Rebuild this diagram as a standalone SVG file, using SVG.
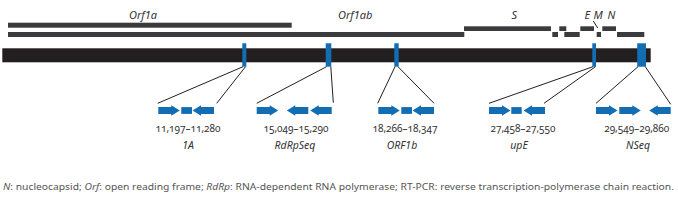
<svg xmlns="http://www.w3.org/2000/svg" xmlns:xlink="http://www.w3.org/1999/xlink" width="678" height="203" viewBox="0 0 678 203">
<style>
.bar{fill:#3b3b3d}
.genome{fill:#231f20}
.blue{fill:#126db3}
.ln{stroke:#231f20;stroke-width:1;fill:none}
.gene{font-family:"Noto Sans","Open Sans",sans-serif;font-style:italic;font-size:11px;fill:#333}
.pos{font-family:"Noto Sans","Open Sans",sans-serif;font-size:10px;fill:#333;text-anchor:middle;font-variant-numeric:oldstyle-nums}
.name{font-family:"Noto Sans","Open Sans",sans-serif;font-style:italic;font-size:10.5px;fill:#333;text-anchor:middle}
.foot{font-family:"Noto Sans","Open Sans",sans-serif;font-size:8.5px;fill:#555}
</style>
<defs>
<path id="ar" class="blue" d="M0,-3.4 H13 V-5.2 L21.5,0 L13,5.2 V3.4 H0 Z"/>
<path id="al" class="blue" d="M0,-3.4 H-13 V-5.2 L-21.5,0 L-13,5.2 V3.4 H0 Z"/>
</defs>
<g id="orfs">
<rect class="bar" x="8" y="22.7" width="283.7" height="5"/>
<rect class="bar" x="8" y="32" width="456.3" height="5"/>
<rect class="bar" x="464" y="26.3" width="87" height="4.7"/>
<rect class="bar" x="552.3" y="32" width="5.7" height="5"/>
<rect class="bar" x="559.3" y="26.3" width="7" height="4.7"/>
<rect class="bar" x="564.3" y="32" width="15.4" height="5"/>
<rect class="bar" x="580.3" y="26.3" width="13.7" height="4.7"/>
<rect class="bar" x="596.7" y="32" width="4.3" height="5"/>
<rect class="bar" x="602.3" y="26.3" width="13.7" height="4.7"/>
<rect class="bar" x="617" y="32" width="27.3" height="5"/>
<line class="ln" x1="593.3" y1="21" x2="597.7" y2="28"/>
<text class="gene" x="129" y="18.5">Orf1a</text>
<text class="gene" x="338" y="18.5">Orf1ab</text>
<text class="gene" x="511.5" y="18.5">S</text>
<text class="gene" x="584.5" y="18.5">E</text>
<text class="gene" x="593.5" y="18.5">M</text>
<text class="gene" x="607.5" y="18.5">N</text>
</g>
<g id="genome">
<rect class="genome" x="2.3" y="48.3" width="648.4" height="14"/>
<rect class="blue" x="242.3" y="43.3" width="4" height="23.4"/>
<rect class="blue" x="325.7" y="43.3" width="5.6" height="23.4"/>
<rect class="blue" x="394.3" y="43.3" width="4.4" height="23.4"/>
<rect class="blue" x="592.3" y="43.3" width="3.7" height="23.4"/>
<rect class="blue" x="637.2" y="43.3" width="8.8" height="23.4"/>
</g>
<g id="connectors">
<line class="ln" x1="243" y1="66.7" x2="157.7" y2="103.3"/>
<line class="ln" x1="245.5" y1="66.7" x2="216.7" y2="103.3"/>
<line class="ln" x1="326.5" y1="66.7" x2="256.7" y2="103.3"/>
<line class="ln" x1="330.8" y1="66.7" x2="333.3" y2="102.7"/>
<line class="ln" x1="395" y1="66.7" x2="377.7" y2="103.3"/>
<line class="ln" x1="398" y1="66.7" x2="434" y2="103.3"/>
<line class="ln" x1="593" y1="66.7" x2="489" y2="103.3"/>
<line class="ln" x1="595.5" y1="66.7" x2="544" y2="103.3"/>
<line class="ln" x1="638" y1="66.7" x2="596" y2="103.3"/>
<line class="ln" x1="645.3" y1="66.7" x2="670.7" y2="104.3"/>
</g>
<g id="assay-1A">
<use xlink:href="#ar" x="158.3" y="110.5"/>
<rect class="blue" x="181.3" y="107.1" width="10.7" height="6.8"/>
<use xlink:href="#al" x="214" y="110.5"/>
<text class="pos" x="188" y="132">11,197–11,280</text>
<text class="name" x="188" y="149">1A</text>
</g>
<g id="assay-RdRpSeq">
<use xlink:href="#ar" x="256.7" y="110.5"/>
<use xlink:href="#al" x="308.3" y="110.5"/>
<use xlink:href="#al" x="331.7" y="110.5"/>
<text class="pos" x="296" y="132">15,049–15,290</text>
<text class="name" x="295" y="149">RdRpSeq</text>
</g>
<g id="assay-ORF1b">
<use xlink:href="#ar" x="378.3" y="110.5"/>
<rect class="blue" x="401.3" y="107.1" width="10.7" height="6.8"/>
<use xlink:href="#al" x="434" y="110.5"/>
<text class="pos" x="405" y="132">18,266–18,347</text>
<text class="name" x="402" y="149">ORF1b</text>
</g>
<g id="assay-upE">
<use xlink:href="#ar" x="489" y="110.5"/>
<rect class="blue" x="511.3" y="107.1" width="10.4" height="6.8"/>
<use xlink:href="#al" x="545" y="110.5"/>
<text class="pos" x="523" y="132">27,458–27,550</text>
<text class="name" x="519" y="149">upE</text>
</g>
<g id="assay-NSeq">
<use xlink:href="#ar" x="596" y="110.5"/>
<use xlink:href="#ar" x="619.3" y="110.5"/>
<use xlink:href="#al" x="670.7" y="110.5"/>
<text class="pos" x="636.7" y="132">29,549–29,860</text>
<text class="name" x="638" y="149">NSeq</text>
</g>
<text class="foot" x="3" y="190" textLength="671" lengthAdjust="spacingAndGlyphs"><tspan font-style="italic">N</tspan>: nucleocapsid; <tspan font-style="italic">Orf</tspan>: open reading frame; <tspan font-style="italic">RdRp</tspan>: RNA-dependent RNA polymerase; RT-PCR: reverse transcription-polymerase chain reaction.</text>
</svg>
